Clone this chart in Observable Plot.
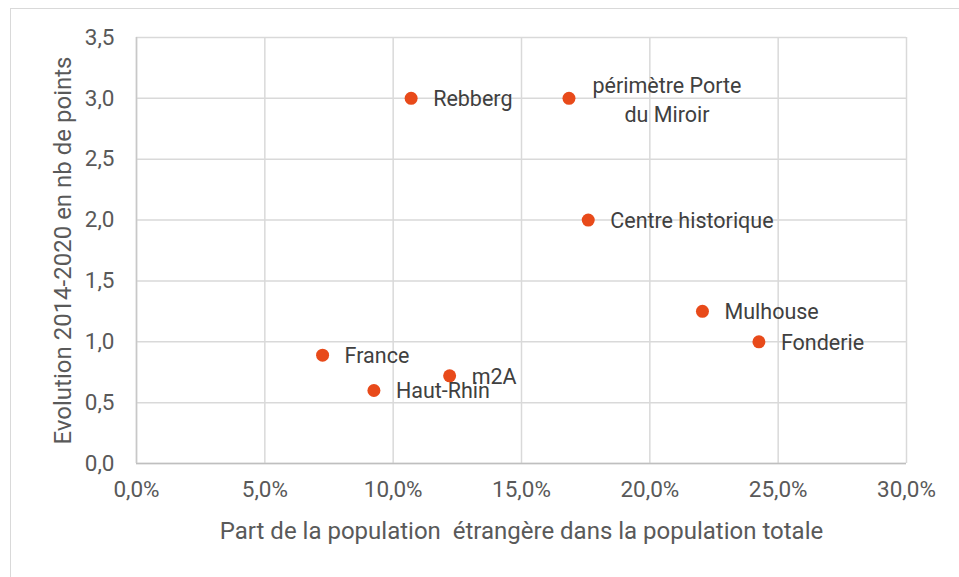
<!DOCTYPE html>
<html>
<head>
<meta charset="utf-8">
<script src="https://cdn.jsdelivr.net/npm/d3@7"></script>
<script src="https://cdn.jsdelivr.net/npm/@observablehq/plot@0.6"></script>
<style>
  html, body { margin: 0; padding: 0; background: #fff; overflow: hidden; }
  #wrap { position: relative; width: 959px; height: 577px; }
  #border { position: absolute; left: 10px; top: 8px; width: 1000px; height: 600px; border: 1.5px solid #d9d9d9; box-sizing: border-box; }
  #chart { position: absolute; left: 0; top: 0; }
</style>
</head>
<body>
<div id="wrap"><div id="border"></div><div id="chart"></div></div>
<script>
const names = ["Rebberg", "périmètre Porte\ndu Miroir", "Centre historique", "Mulhouse", "Fonderie", "France", "m2A", "Haut-Rhin"];
const shareForeign = [0.107, 0.1685, 0.176, 0.2205, 0.2425, 0.0725, 0.122, 0.0925];
const evolution = [3.0, 3.0, 2.0, 1.25, 1.0, 0.89, 0.72, 0.6];
const multiLine = [false, true, false, false, false, false, false, false];
const xTicks = [0, 0.05, 0.10, 0.15, 0.20, 0.25, 0.30];
const yTicks = [0, 0.5, 1.0, 1.5, 2.0, 2.5, 3.0, 3.5];
const xTitle = "Part de la population  étrangère dans la population totale";
const yTitle = "Evolution 2014-2020 en nb de points";

const data = names.map((n, i) => ({name: n, x: shareForeign[i], y: evolution[i], multi: multiLine[i]}));
const frFmt = (d, digits) => d.toFixed(digits).replace(".", ",");

const plain = data.filter(d => !d.multi);
const multi = data.filter(d => d.multi);
const font = "Roboto, 'Liberation Sans', sans-serif";

const chart = Plot.plot({
  width: 959,
  height: 577,
  marginLeft: 136,
  marginRight: 53,
  marginTop: 37,
  marginBottom: 114,
  style: {fontFamily: font, fontSize: "23px", color: "#595959", background: "transparent"},
  x: {domain: [0, 0.30]},
  y: {domain: [0, 3.5]},
  marks: [
    Plot.gridX(xTicks, {stroke: "#d9d9d9", strokeOpacity: 1, strokeWidth: 1.5}),
    Plot.gridY(yTicks, {stroke: "#d9d9d9", strokeOpacity: 1, strokeWidth: 1.5}),
    Plot.ruleY([0], {stroke: "#bfbfbf", strokeWidth: 1.5}),
    Plot.ruleX([0], {stroke: "#c8c8c8", strokeWidth: 1.5}),
    Plot.axisX(xTicks, {tickSize: 0, tickPadding: 18, tickFormat: d => frFmt(d * 100, 1) + "%", fontSize: 22.5, label: null}),
    Plot.axisY(yTicks, {tickSize: 0, tickPadding: 22, tickFormat: d => frFmt(d, 1), fontSize: 22.5, label: null}),
    Plot.text([xTitle], {frameAnchor: "bottom", textAnchor: "middle", lineAnchor: "middle", dy: 68, fontSize: 24, fill: "#595959", fontFamily: font}),
    Plot.text([yTitle], {frameAnchor: "left", textAnchor: "middle", lineAnchor: "middle", rotate: -90, dx: -73, fontSize: 24, fill: "#595959", fontFamily: font}),
    Plot.dot(data, {x: "x", y: "y", r: 6.5, fill: "#e84a1a", stroke: "none"}),
    Plot.text(plain, {x: "x", y: "y", text: "name", dx: 22, dy: 1, textAnchor: "start", fill: "#404040",
      fontSize: 21.5, fontFamily: font}),
    Plot.text(multi, {x: "x", y: "y", text: "name", dx: 98, dy: 0, textAnchor: "middle", lineHeight: 1.35, fill: "#404040",
      fontSize: 21.5, fontFamily: font})
  ]
});
document.getElementById("chart").appendChild(chart);
</script>
</body>
</html>
